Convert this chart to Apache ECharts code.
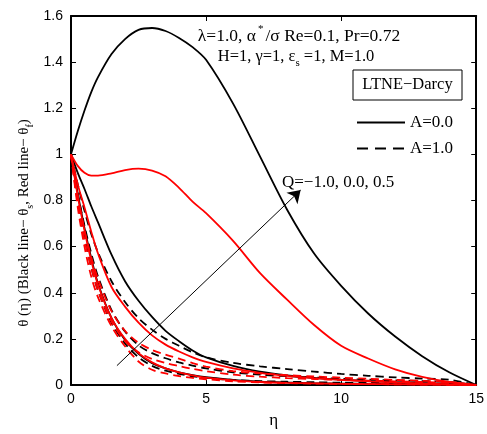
<!DOCTYPE html>
<html>
<head>
<meta charset="utf-8">
<script src="https://cdn.jsdelivr.net/npm/echarts@6/dist/echarts.min.js"></script>
<style>
  html, body { margin: 0; padding: 0; background: #fff; }
  #chart { width: 487px; height: 434px; }
</style>
</head>
<body>
<div id="chart"></div>
<script>
// similarity variable eta
const eta = [0, 0.25, 0.5, 0.75, 1, 1.5, 2, 2.5, 3, 3.5, 4, 4.5, 5, 6, 7, 8, 9, 10, 11, 12, 13, 14, 15];

// A = 0.0 (solid) : solid-phase temperature theta_s (black)
const thetaS_A0_Qm1 = [1, 0.83, 0.68, 0.55, 0.44, 0.29, 0.195, 0.135, 0.095, 0.072, 0.055, 0.043, 0.034, 0.022, 0.015, 0.011, 0.008, 0.006, 0.005, 0.004, 0.003, 0.002, 0];
const thetaS_A0_Q0  = [1, 0.92, 0.85, 0.775, 0.705, 0.565, 0.45, 0.365, 0.295, 0.235, 0.19, 0.15, 0.12, 0.083, 0.058, 0.042, 0.031, 0.023, 0.017, 0.012, 0.008, 0.004, 0];
const thetaS_A0_Qp5 = [1, 1.1, 1.19, 1.27, 1.335, 1.435, 1.5, 1.54, 1.548, 1.535, 1.505, 1.465, 1.41, 1.22, 0.99, 0.76, 0.57, 0.43, 0.31, 0.21, 0.125, 0.055, 0];

// A = 0.0 (solid) : fluid-phase temperature theta_f (red)
const thetaF_A0_Qm1 = [1, 0.82, 0.67, 0.54, 0.435, 0.29, 0.2, 0.138, 0.098, 0.072, 0.055, 0.042, 0.032, 0.02, 0.013, 0.009, 0.007, 0.005, 0.004, 0.003, 0.002, 0.001, 0];
const thetaF_A0_Q0  = [1, 0.87, 0.77, 0.665, 0.57, 0.425, 0.34, 0.27, 0.215, 0.175, 0.145, 0.12, 0.1, 0.072, 0.053, 0.04, 0.03, 0.022, 0.016, 0.011, 0.007, 0.003, 0];
const thetaF_A0_Qp5 = [1, 0.95, 0.92, 0.908, 0.908, 0.918, 0.932, 0.938, 0.93, 0.905, 0.855, 0.795, 0.745, 0.625, 0.485, 0.37, 0.26, 0.17, 0.115, 0.068, 0.035, 0.013, 0];

// A = 1.0 (dashed) : theta_s (black)
const thetaS_A1_Qm1 = [1, 0.8, 0.64, 0.51, 0.41, 0.27, 0.18, 0.12, 0.083, 0.062, 0.048, 0.038, 0.031, 0.022, 0.017, 0.014, 0.012, 0.01, 0.009, 0.008, 0.007, 0.005, 0];
const thetaS_A1_Q0  = [1, 0.83, 0.69, 0.57, 0.47, 0.325, 0.232, 0.172, 0.138, 0.116, 0.098, 0.084, 0.072, 0.055, 0.045, 0.038, 0.032, 0.027, 0.023, 0.02, 0.017, 0.013, 0];
const thetaS_A1_Qp5 = [1, 0.87, 0.755, 0.655, 0.575, 0.45, 0.36, 0.29, 0.24, 0.2, 0.17, 0.142, 0.12, 0.096, 0.081, 0.069, 0.058, 0.048, 0.04, 0.033, 0.028, 0.023, 0];

// A = 1.0 (dashed) : theta_f (red)
const thetaF_A1_Qm1 = [1, 0.77, 0.6, 0.47, 0.38, 0.255, 0.168, 0.102, 0.066, 0.05, 0.039, 0.031, 0.025, 0.016, 0.011, 0.008, 0.006, 0.005, 0.004, 0.003, 0.002, 0.001, 0];
const thetaF_A1_Q0  = [1, 0.79, 0.63, 0.51, 0.41, 0.275, 0.19, 0.142, 0.113, 0.095, 0.082, 0.07, 0.06, 0.045, 0.036, 0.03, 0.026, 0.022, 0.019, 0.016, 0.013, 0.009, 0];
const thetaF_A1_Qp5 = [1, 0.82, 0.67, 0.555, 0.46, 0.32, 0.235, 0.183, 0.152, 0.132, 0.114, 0.095, 0.08, 0.06, 0.05, 0.043, 0.037, 0.032, 0.027, 0.022, 0.018, 0.013, 0];

// axis ticks
const xTicks = [0, 5, 10, 15];
const yTicks = [0, 0.2, 0.4, 0.6, 0.8, 1, 1.2, 1.4, 1.6];

// direction of increasing Q
const arrowFrom = [1.7, 0.084];
const arrowTo = [8.5, 0.845];

const SERIF = 'Liberation Serif, Times New Roman, serif';
const SANS = 'Liberation Sans, Arial, sans-serif';
const BLACK = '#000000';
const RED = '#ff0000';
const DASH = [8, 5];

function pairs(ys) { return eta.map((x, i) => [x, ys[i]]); }

function curve(name, ys, color, dashed) {
  return {
    name: name,
    type: 'line',
    data: pairs(ys),
    showSymbol: false,
    symbol: 'none',
    smooth: 0.3,
    silent: true,
    lineStyle: { color: color, width: 1.8, type: dashed ? DASH : 'solid' },
    itemStyle: { color: color },
    z: color === RED ? 3 : 2
  };
}

const series = [
  curve('A=0.0', thetaS_A0_Qp5, BLACK, false),
  curve('A=0.0', thetaS_A0_Q0, BLACK, false),
  curve('A=0.0', thetaS_A0_Qm1, BLACK, false),
  curve('A=1.0', thetaS_A1_Qp5, BLACK, true),
  curve('A=1.0', thetaS_A1_Q0, BLACK, true),
  curve('A=1.0', thetaS_A1_Qm1, BLACK, true),
  curve('f A=0.0 Q=0.5', thetaF_A0_Qp5, RED, false),
  curve('f A=0.0 Q=0.0', thetaF_A0_Q0, RED, false),
  curve('f A=0.0 Q=-1.0', thetaF_A0_Qm1, RED, false),
  curve('f A=1.0 Q=0.5', thetaF_A1_Qp5, RED, true),
  curve('f A=1.0 Q=0.0', thetaF_A1_Q0, RED, true),
  curve('f A=1.0 Q=-1.0', thetaF_A1_Qm1, RED, true)
];

// arrow showing the direction of increasing Q
series.push({
  name: 'Q direction',
  type: 'line',
  data: [],
  silent: true,
  markLine: {
    silent: true,
    animation: false,
    symbol: ['none', 'arrow'],
    symbolSize: 12,
    label: { show: false },
    lineStyle: { color: BLACK, width: 1, type: 'solid' },
    emphasis: { disabled: true },
    data: [[{ coord: arrowFrom }, { coord: arrowTo }]]
  }
});

const richLabel = {
  n: { fontSize: 15, fontFamily: SERIF, color: BLACK, lineHeight: 22 },
  sub: { fontSize: 10, fontFamily: SERIF, color: BLACK, lineHeight: 11, verticalAlign: 'bottom' }
};
const richNote1 = {
  n: { fontSize: 17.5, fontFamily: SERIF, color: BLACK, lineHeight: 25 },
  sup: { fontSize: 11, fontFamily: SERIF, color: BLACK, lineHeight: 12, verticalAlign: 'top', padding: [0, 2, 0, 2] }
};
const richNote2 = {
  n: { fontSize: 16.5, fontFamily: SERIF, color: BLACK, lineHeight: 24 },
  sub: { fontSize: 11, fontFamily: SERIF, color: BLACK, lineHeight: 12, verticalAlign: 'bottom' }
};

function axisCommon(extra) {
  return Object.assign({
    type: 'value',
    axisLine: { show: true, onZero: false, lineStyle: { color: BLACK, width: 2 } },
    axisTick: { show: true, inside: true, length: 5, lineStyle: { color: BLACK, width: 1 } },
    splitLine: { show: false }
  }, extra);
}

const option = {
  animation: false,
  backgroundColor: '#ffffff',
  grid: { left: 71, right: 8, top: 16, bottom: 39, containLabel: false },
  xAxis: [
    axisCommon({
      position: 'bottom', min: xTicks[0], max: xTicks[xTicks.length - 1], interval: xTicks[1] - xTicks[0],
      axisLabel: { color: BLACK, fontSize: 14, fontFamily: SANS, margin: 7 },
      name: 'η', nameLocation: 'middle', nameGap: 27,
      nameTextStyle: { color: BLACK, fontSize: 17, fontFamily: SERIF }
    }),
    axisCommon({
      position: 'top', min: xTicks[0], max: xTicks[xTicks.length - 1], interval: xTicks[1] - xTicks[0],
      axisLabel: { show: false }
    })
  ],
  yAxis: [
    axisCommon({
      position: 'left', min: yTicks[0], max: yTicks[yTicks.length - 1], interval: yTicks[1] - yTicks[0],
      axisLabel: { color: BLACK, fontSize: 14, fontFamily: SANS, margin: 8 }
    }),
    axisCommon({
      position: 'right', min: yTicks[0], max: yTicks[yTicks.length - 1], interval: yTicks[1] - yTicks[0],
      axisLabel: { show: false }
    })
  ],
  legend: {
    data: [
      { name: 'A=0.0', lineStyle: { color: BLACK, width: 2, type: 'solid' } },
      { name: 'A=1.0', lineStyle: { color: BLACK, width: 2, type: [11, 7] } }
    ],
    orient: 'vertical',
    left: 356,
    top: 114,
    padding: 0,
    itemWidth: 48,
    itemHeight: 14,
    itemGap: 9,
    selectedMode: false,
    itemStyle: { opacity: 0 },
    textStyle: { color: BLACK, fontSize: 17, fontFamily: SERIF }
  },
  graphic: [
    {
      type: 'text', x: 24, y: 223, rotation: Math.PI / 2, silent: true,
      style: {
        text: '{n|θ (η) (Black line− θ}{sub|s}{n|, Red line− θ}{sub|f}{n|)}',
        rich: richLabel, align: 'center', verticalAlign: 'middle'
      }
    },
    {
      type: 'text', x: 299, y: 36, silent: true,
      style: {
        text: '{n|λ=1.0, α}{sup|*}{n|/σ Re=0.1, Pr=0.72}',
        rich: richNote1, align: 'center', verticalAlign: 'middle'
      }
    },
    {
      type: 'text', x: 296, y: 57, silent: true,
      style: {
        text: '{n|H=1, γ=1, ε}{sub|s}{n| =1, M=1.0}',
        rich: richNote2, align: 'center', verticalAlign: 'middle'
      }
    },
    {
      type: 'rect', silent: true,
      shape: { x: 353, y: 70, width: 109, height: 30 },
      style: { fill: '#ffffff', stroke: BLACK, lineWidth: 1 }
    },
    {
      type: 'text', x: 407.5, y: 85, silent: true,
      style: {
        text: 'LTNE−Darcy', fill: BLACK, font: '16.5px ' + SERIF,
        align: 'center', verticalAlign: 'middle'
      }
    },
    {
      type: 'text', x: 282, y: 183, silent: true,
      style: {
        text: 'Q=−1.0, 0.0, 0.5', fill: BLACK, font: '17px ' + SERIF,
        align: 'left', verticalAlign: 'middle'
      }
    }
  ],
  series: series
};

const chart = echarts.init(document.getElementById('chart'), null, { renderer: 'canvas' });
chart.setOption(option);
</script>
</body>
</html>
